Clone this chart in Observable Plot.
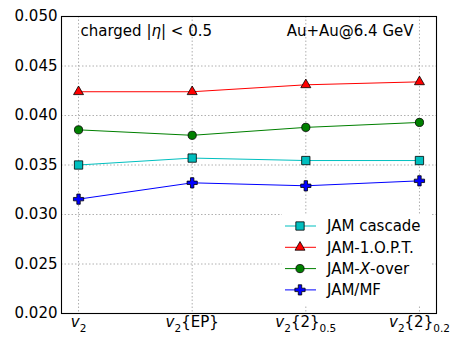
<!DOCTYPE html>
<html><head><meta charset="utf-8">
<script src="https://cdn.jsdelivr.net/npm/d3@7"></script>
<script src="https://cdn.jsdelivr.net/npm/@observablehq/plot@0.6"></script>
<style>body{margin:0;background:white}</style>
</head><body><div id="chart"></div>
<script>
// ---- data ----
const xLabels = ["*v*_[2]", "*v*_[2]{EP}", "*v*_[2]{2}_[0.5]", "*v*_[2]{2}_[0.2]"];
const seriesNames = ["JAM cascade", "JAM-1.O.P.T.", "JAM-*X*-over", "JAM/MF"];
const cascade = [0.0350, 0.0357, 0.03545, 0.03545];
const opt     = [0.0424, 0.0424, 0.0431, 0.0434];
const xover   = [0.03855, 0.0380, 0.0388, 0.0393];
const mf      = [0.03155, 0.0332, 0.0329, 0.0334];
const yTicks  = [0.020, 0.025, 0.030, 0.035, 0.040, 0.045, 0.050];
const noteLeft = "charged |*η*| < 0.5";
const noteRight = "Au+Au@6.4 GeV";

// ---- styles ----
const colors  = ["#00bfbf", "#ff0000", "#008000", "#0000ff"];
const symbols = ["square", "triangle", "circle", "cross"];
const d3syms  = [d3.symbolSquare, d3.symbolTriangle, d3.symbolCircle, d3.symbolCross];
const radii   = [4.7, 3.7, 4.1, 4.3];
const values  = [cascade, opt, xover, mf];

const W = 463, H = 347, mL = 61, mR = 27, mT = 16, mB = 34;
const series = seriesNames.map((name, k) => ({name, values: values[k], color: colors[k], symbol: symbols[k], r: radii[k], d3sym: d3syms[k]}));
const xIdx = xLabels.map((_, i) => i);

const chart = Plot.plot({
  width: W, height: H,
  marginLeft: mL, marginRight: mR, marginTop: mT, marginBottom: mB,
  style: {fontFamily: "'DejaVu Sans', sans-serif", fontSize: "15px", background: "white", color: "black"},
  x: {domain: [-0.15, 3.15], axis: null},
  y: {domain: [0.020, 0.050]},
  marks: [
    Plot.gridY(yTicks, {stroke: "#b0b0b0", strokeOpacity: 1, strokeDasharray: "1.5,2"}),
    Plot.gridX(xIdx, {stroke: "#b0b0b0", strokeOpacity: 1, strokeDasharray: "1.5,2"}),
    ...series.flatMap(s => [
      Plot.line(s.values, {x: (d, i) => i, y: d => d, stroke: s.color, strokeWidth: 1}),
      Plot.dot(s.values, {x: (d, i) => i, y: d => d, symbol: s.symbol, r: s.r, fill: s.color, stroke: "black", strokeWidth: 0.8})
    ]),
    Plot.frame({stroke: "black", strokeWidth: 1.1}),
    Plot.axisY(yTicks, {tickSize: 0, tickPadding: 4, tickFormat: d => d.toFixed(3), fontSize: 15}),
    Plot.text(xLabels, {x: (d, i) => i, frameAnchor: "bottom", lineAnchor: "middle", dy: 9, fontSize: 15}),
    Plot.text([noteLeft], {frameAnchor: "top-left", textAnchor: "start", lineAnchor: "middle", dx: 19, dy: 15, fontSize: 15}),
    Plot.text([noteRight], {frameAnchor: "top-right", textAnchor: "end", lineAnchor: "middle", dx: -23, dy: 15, fontSize: 15})
  ]
});

// ---- rich text: *italic*, _[subscript] ----
const NS = "http://www.w3.org/2000/svg";
function rich(el, str) {
  el.textContent = "";
  const re = /_\[([^\]]*)\]|\*([^*]*)\*|([^_*]+)/g;
  let m, shift = 0;
  while ((m = re.exec(str))) {
    const t = document.createElementNS(NS, "tspan");
    if (m[1] !== undefined) {
      t.textContent = m[1];
      t.setAttribute("style", "font-size:70%");
      t.setAttribute("dy", 4.5 - shift); shift = 4.5;
    } else {
      t.textContent = m[2] !== undefined ? m[2] : m[3];
      if (m[2] !== undefined) t.setAttribute("font-style", "italic");
      if (shift) { t.setAttribute("dy", -shift); shift = 0; }
    }
    el.appendChild(t);
  }
}
d3.select(chart).selectAll("text").each(function() {
  const s = this.textContent;
  if (/\*|_\[/.test(s)) rich(this, s);
});

// ---- legend (bottom-right inside frame) ----
const fr = W - mR, fb = H - mB;
const lg = d3.select(chart).append("g")
  .attr("font-family", "'DejaVu Sans', sans-serif").attr("font-size", 15).attr("text-anchor", "start");
lg.append("rect").attr("x", fr - 154).attr("y", fb - 99).attr("width", 150).attr("height", 91).attr("fill", "white");
series.forEach((s, k) => {
  const y = fb - 87 + k * 21.3;
  lg.append("line").attr("x1", fr - 151).attr("x2", fr - 120).attr("y1", y).attr("y2", y).attr("stroke", s.color).attr("stroke-width", 1);
  lg.append("path").attr("d", d3.symbol(s.d3sym, s.r * s.r * Math.PI)()).attr("transform", `translate(${fr - 136},${y})`)
    .attr("fill", s.color).attr("stroke", "black").attr("stroke-width", 0.8);
  const t = lg.append("text").attr("x", fr - 109).attr("y", y).attr("dy", "0.35em").attr("fill", "black").attr("text-anchor", "start");
  rich(t.node(), s.name);
});

document.getElementById("chart").appendChild(chart);
</script>
</body></html>
